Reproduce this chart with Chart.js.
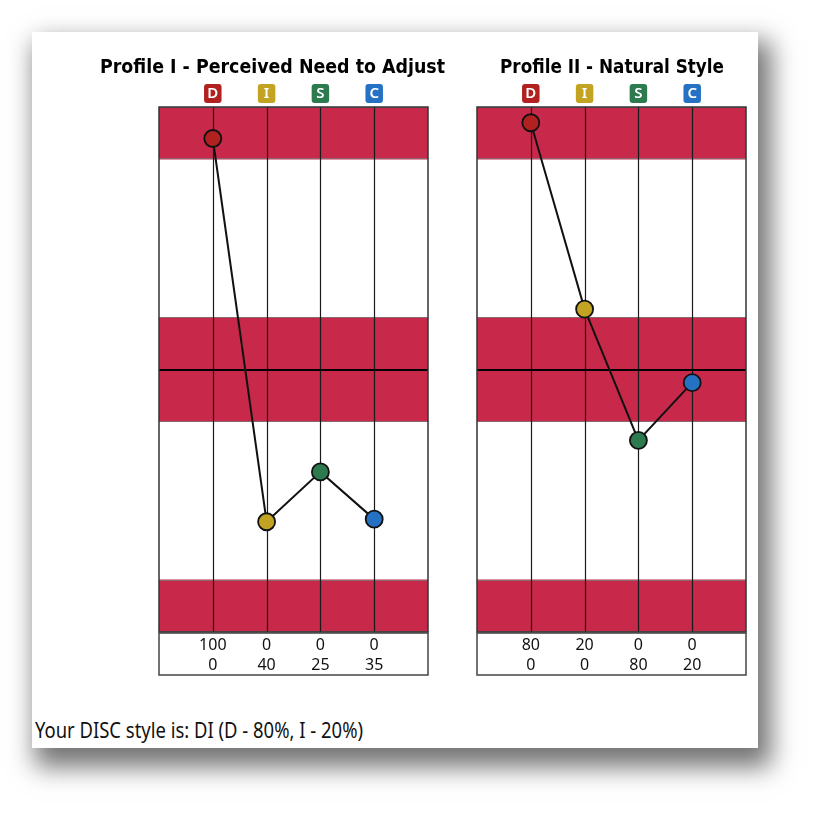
<!DOCTYPE html>
<html><head><meta charset="utf-8">
<script src="https://cdn.jsdelivr.net/npm/chart.js@4"></script>
<style>
html,body{margin:0;padding:0;background:#fff;width:824px;height:814px;overflow:hidden;}
#card{position:absolute;left:32px;top:32px;width:726px;height:716px;background:#fff;box-shadow:8px 14px 24px 5px rgba(0,0,0,0.55);}
.wrap{position:absolute;}
#summary{position:absolute;left:35px;top:714px;font:22px "Noto Sans";color:#111;white-space:nowrap;transform-origin:left top;}
</style></head><body>
<div id="card"></div>
<div class="wrap" style="left:90px;top:40px;"><canvas id="c1" width="370" height="660"></canvas></div>
<div class="wrap" style="left:450px;top:40px;"><canvas id="c2" width="330" height="660"></canvas></div>
<div id="summary">Your DISC style is: DI (D - 80%, I - 20%)</div>
<script>
// ---- data ----
const categories = ['D', 'I', 'S', 'C'];
const profile1Values = [88, -58, -39, -57];
const profile2Values = [94, 23, -27, -5];
const profile1MostRow = [100, 0, 0, 0];
const profile1LeastRow = [0, 40, 25, 35];
const profile2MostRow = [80, 20, 0, 0];
const profile2LeastRow = [0, 0, 80, 20];
const zones = [[80, 100], [-20, 20], [-100, -80]];
const title1 = 'Profile I - Perceived Need to Adjust';
const title2 = 'Profile II - Natural Style';

// ---- styles ----
const catColors = ['#b0211f', '#c2a322', '#2e7a4f', '#2571c4'];
const zoneColor = '#c8294a';

function fitText(ctx, text, cx, y, targetW) {
  const w = ctx.measureText(text).width;
  const s = targetW / w;
  ctx.save();
  ctx.translate(cx, y);
  ctx.scale(s, 1);
  ctx.textAlign = 'center';
  ctx.fillText(text, 0, 0);
  ctx.restore();
}

const discPlugin = {
  id: 'disc',
  beforeDatasetsDraw(chart, args, opts) {
    const {ctx, chartArea: a, scales: {x, y}} = chart;
    ctx.save();
    // zones
    zones.forEach(([lo, hi]) => {
      const y1 = y.getPixelForValue(hi), y2 = y.getPixelForValue(lo);
      ctx.fillStyle = zoneColor;
      ctx.fillRect(a.left, y1, a.right - a.left, y2 - y1);
      ctx.strokeStyle = 'rgba(120,120,120,0.8)';
      ctx.lineWidth = 1;
      ctx.beginPath();
      ctx.moveTo(a.left, Math.round(y1) + 0.5); ctx.lineTo(a.right, Math.round(y1) + 0.5);
      ctx.moveTo(a.left, Math.round(y2) - 0.5); ctx.lineTo(a.right, Math.round(y2) - 0.5);
      ctx.stroke();
    });
    // vertical lines
    ctx.strokeStyle = '#1a1a1a';
    ctx.lineWidth = 1.2;
    categories.forEach((c, i) => {
      const px = Math.round(x.getPixelForValue(i + 1)) + 0.5;
      ctx.beginPath(); ctx.moveTo(px, a.top); ctx.lineTo(px, a.bottom); ctx.stroke();
    });
    // midline
    ctx.lineWidth = 2;
    ctx.strokeStyle = '#000';
    const my = Math.round(y.getPixelForValue(0));
    ctx.beginPath(); ctx.moveTo(a.left, my); ctx.lineTo(a.right, my); ctx.stroke();
    // border
    ctx.lineWidth = 1.5;
    ctx.strokeStyle = '#333';
    ctx.strokeRect(a.left, a.top, a.right - a.left, a.bottom - a.top);
    ctx.restore();
  },
  afterDraw(chart, args, opts) {
    const {ctx, chartArea: a, scales: {x}} = chart;
    ctx.save();
    // title
    ctx.fillStyle = '#000';
    ctx.font = 'bold 20px "DejaVu Sans"';
    ctx.textBaseline = 'alphabetic';
    fitText(ctx, opts.title, opts.titleX, a.top - 34, opts.titleW);
    // badges
    categories.forEach((c, i) => {
      const px = x.getPixelForValue(i + 1);
      const bw = 17.5, bh = 19, by = a.top - 23;
      ctx.fillStyle = catColors[i];
      ctx.beginPath();
      ctx.roundRect(px - bw / 2, by, bw, bh, 3);
      ctx.fill();
      ctx.fillStyle = '#fff';
      ctx.font = '600 15px "Noto Sans"';
      ctx.textAlign = 'center';
      ctx.textBaseline = 'middle';
      ctx.fillText(c, px, by + bh / 2 + 0.5);
    });
    // table
    const top = a.bottom + 1, h = 42;
    ctx.fillStyle = '#fff';
    ctx.fillRect(a.left, top, a.right - a.left, h);
    ctx.strokeStyle = '#444';
    ctx.lineWidth = 1.5;
    ctx.strokeRect(a.left, top, a.right - a.left, h);
    ctx.fillStyle = '#111';
    ctx.font = '16px "Noto Sans"';
    ctx.textAlign = 'center';
    ctx.textBaseline = 'middle';
    categories.forEach((c, i) => {
      const px = x.getPixelForValue(i + 1);
      ctx.fillText(String(opts.row1[i]), px, top + 12);
      ctx.fillText(String(opts.row2[i]), px, top + 32);
    });
    ctx.restore();
  }
};

function makeChart(id, values, pad, discOpts) {
  return new Chart(document.getElementById(id), {
    type: 'line',
    data: {
      datasets: [{
        data: values.map((v, i) => ({x: i + 1, y: v})),
        borderColor: '#111',
        borderWidth: 2,
        pointRadius: 8.5,
        pointBackgroundColor: catColors,
        pointBorderColor: '#111',
        pointBorderWidth: 1.8,
        tension: 0,
        clip: false
      }]
    },
    options: {
      responsive: false,
      animation: false,
      devicePixelRatio: 1,
      layout: {padding: pad},
      plugins: {legend: {display: false}, tooltip: {enabled: false}, title: {display: false}, disc: discOpts},
      scales: {
        x: {type: 'linear', min: 0, max: 5, display: false},
        y: {type: 'linear', min: -100, max: 100, display: false}
      }
    },
    plugins: [discPlugin]
  });
}

makeChart('c1', profile1Values, {left: 69, right: 32, top: 67, bottom: 68},
  {title: title1, titleX: 182.5, titleW: 345, row1: profile1MostRow, row2: profile1LeastRow});
makeChart('c2', profile2Values, {left: 27, right: 34, top: 67, bottom: 68},
  {title: title2, titleX: 162, titleW: 224, row1: profile2MostRow, row2: profile2LeastRow});

const s = document.getElementById('summary');
const sw = s.getBoundingClientRect().width;
s.style.transform = 'scaleX(' + (328 / sw) + ')';
</script>
</body></html>
